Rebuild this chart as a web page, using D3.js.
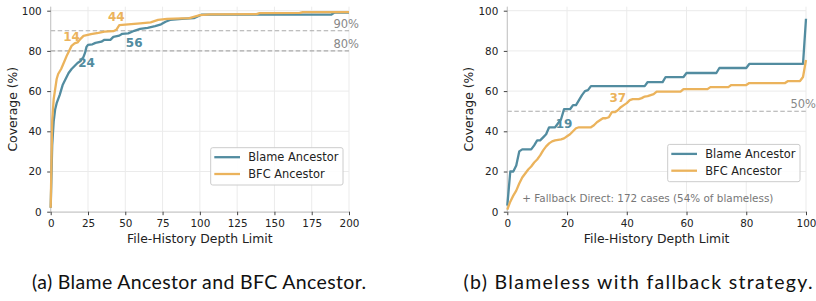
<!DOCTYPE html>
<html>
<head>
<meta charset="utf-8">
<script src="https://cdn.jsdelivr.net/npm/d3@7"></script>
<style>
body { margin: 0; background: #fff; }
svg { display: block; }
</style>
</head>
<body>
<svg width="816" height="301"></svg>
<script>
// (a) Blame Ancestor vs BFC Ancestor, depth 0..200
var blameDepthA = [0,1,2,3,4,5,6,8,10,12,14,16,18,20,22,23,24,25,28,30,34,36,40,42,46,48,52,56,60,65,70,74,77,80,88,96,101,188,190,200];
var blameCovA   = [2,33,45,51,54,56,58,63,66,69,71,72.5,74,75,77,79,82,83,83.3,84,84.6,85.5,85.5,87,87.6,88.5,88.7,90,91,91.5,92.3,93.2,94.5,95.4,95.9,96.3,98,98,99,99];
var bfcDepthA = [0,1,2,3,4,5,7,9,11,12,14,16,18,20,22,27,32,36,42,44,46,52,60,67,72,78,88,93,100,107,138,140,167,169,200];
var bfcCovA   = [2,45,56,61,66,68.5,71,74.5,78,79.5,82.5,83.7,84.2,86,87.5,88.4,89,89.6,89.8,90.5,92.8,93.2,93.7,94.2,95.4,95.9,96.2,96.3,97.8,98.2,98.3,98.8,98.9,99.3,99.3];

// (b) Blameless with fallback, depth 0..100
var blameDepthB = [0,1,2,3,4,5,8,9,10,11,12,13,14,16,17,18,19,21,22,23,24,25,26,27,28,46,47,52,53,59,60,70,71,80,81,99,100];
var blameCovB   = [3,20,20,23,30,31,31,33,35.5,35.5,37,38.5,42,42,44,46,51,51,53,53,55.5,58,60,60.5,62.5,62.5,64.5,64.5,67,67,69,69,71.5,71.5,73.5,73.5,96];
var bfcDepthB = [0,1,2,3,4,5,6,7,8,9,10,11,12,13,14,15,16,18,19,20,21,22,23,24,28,29,30,31,32,33,34,35,36,37,38,39,40,41,42,44,45,46,47,48,49,50,58,59,67,68,74,75,80,81,93,94,98,99,100];
var bfcCovB   = [1,5,8,10.5,14,17,19,21,22.5,24.5,26,28,30.5,32.5,34,35,35.5,36,36.5,37.5,38.5,40,41.5,42,42,43,44.5,45.5,46.5,46.5,47,49.5,49.5,50.5,52,53,54,55.5,56,56,56.5,57.3,57.5,58,58.5,59.7,59.7,61,61,62,62,63,63,64,64,65,65,67,75.5];

// thresholds and depth annotations
var refLinesA = [90, 80];
var refLinesB = [50];
var annoDepthA = [14, 24, 44, 56];
var annoThrA = [80, 80, 90, 90];
var annoSeriesA = ["bfc", "blame", "bfc", "blame"];
var annoDepthB = [19, 37];
var annoThrB = [50, 50];
var annoSeriesB = ["blame", "bfc"];

var xTicksA = [0, 25, 50, 75, 100, 125, 150, 175, 200];
var xTicksB = [0, 20, 40, 60, 80, 100];
var yTicks = [0, 20, 40, 60, 80, 100];
var seriesNames = ["Blame Ancestor", "BFC Ancestor"];
var captions = ["(a) Blame Ancestor and BFC Ancestor.", "(b) Blameless with fallback strategy."];
var fallbackNote = "+ Fallback Direct: 172 cases (54% of blameless)";

var colors = { blame: "#528ca0", bfc: "#ebb35c" };
var font = "'DejaVu Sans', sans-serif";

var svg = d3.select("svg");

function zip(a, b) {
    return a.map(function(d, i) { return [d, b[i]]; });
}

function panel(cfg) {
    var g = svg.append("g");
    var x = d3.scaleLinear().domain([0, cfg.xMax]).range([cfg.x0, cfg.x1]);
    var y = d3.scaleLinear().domain([0, 102]).range([211.7, 6.68]);

    // grid
    g.selectAll(".gx").data(cfg.xTicks).enter().append("line")
        .attr("x1", x).attr("x2", x)
        .attr("y1", y(0)).attr("y2", y(102))
        .attr("stroke", "#ebebeb").attr("stroke-width", 1);
    g.selectAll(".gy").data(yTicks).enter().append("line")
        .attr("x1", cfg.x0).attr("x2", cfg.x1)
        .attr("y1", y).attr("y2", y)
        .attr("stroke", "#ebebeb").attr("stroke-width", 1);

    // dashed reference lines
    cfg.refs.forEach(function(r) {
        g.append("line")
            .attr("x1", cfg.x0).attr("x2", cfg.x1)
            .attr("y1", y(r)).attr("y2", y(r))
            .attr("stroke", "#aaaaaa").attr("stroke-width", 1.1)
            .attr("stroke-dasharray", "4.5,2.5");
        g.append("text")
            .attr("x", cfg.x1 + 10).attr("y", y(r) - 3)
            .attr("text-anchor", "end")
            .attr("font-family", font).attr("font-size", "11.5px")
            .attr("fill", "#888")
            .text(r + "%");
    });

    // axes
    var xa = g.append("g").attr("transform", "translate(0," + y(0) + ")")
        .call(d3.axisBottom(x).tickValues(cfg.xTicks).tickSize(3.5).tickSizeOuter(0).tickPadding(4.5));
    var ya = g.append("g").attr("transform", "translate(" + cfg.x0 + ",0)")
        .call(d3.axisLeft(y).tickValues(yTicks).tickSize(3.5).tickSizeOuter(0).tickPadding(5.5));
    ya.select(".domain").attr("d", "M0," + y(0) + "V" + y(102));
    [xa, ya].forEach(function(a) {
        a.select(".domain").attr("stroke", "#c4c4c4");
        a.selectAll(".tick line").attr("stroke", "#444");
        a.selectAll(".tick text").attr("font-family", font).attr("font-size", "10.4px").attr("fill", "#222");
    });

    g.append("text")
        .attr("x", (cfg.x0 + cfg.x1) / 2).attr("y", 242.5)
        .attr("text-anchor", "middle")
        .attr("font-family", font).attr("font-size", "12.4px").attr("fill", "#222")
        .text("File-History Depth Limit");
    g.append("text")
        .attr("transform", "translate(" + (cfg.x0 - 34) + "," + ((y(0) + y(102)) / 2) + ") rotate(-90)")
        .attr("text-anchor", "middle")
        .attr("font-family", font).attr("font-size", "12.4px").attr("fill", "#222")
        .text("Coverage (%)");

    // curves
    var line = d3.line().x(function(d) { return x(d[0]); }).y(function(d) { return y(d[1]); });
    cfg.series.forEach(function(s) {
        g.append("path")
            .datum(s.pts)
            .attr("fill", "none")
            .attr("stroke", colors[s.key])
            .attr("stroke-width", 2.3)
            .attr("stroke-linejoin", "round")
            .attr("d", line);
    });

    // depth labels
    cfg.anno.depth.forEach(function(d, i) {
        var key = cfg.anno.series[i];
        var above = key === "bfc";
        g.append("text")
            .attr("x", x(d))
            .attr("y", above ? y(cfg.anno.thr[i]) - 9.6 : y(cfg.anno.thr[i]) + 16.3)
            .attr("text-anchor", "middle")
            .attr("font-family", font).attr("font-size", "12px").attr("font-weight", "bold")
            .attr("fill", colors[key])
            .text(d);
    });

    // legend
    var lx = cfg.x1 - 6 - 132.3, ly = y(0) - cfg.legBottom - 37.3;
    var leg = g.append("g").attr("transform", "translate(" + lx + "," + ly + ")");
    leg.append("rect")
        .attr("width", 132.3).attr("height", 37.3).attr("rx", 2)
        .attr("fill", "#fff").attr("fill-opacity", 0.9)
        .attr("stroke", "#cccccc").attr("stroke-width", 1);
    ["blame", "bfc"].forEach(function(k, i) {
        var yy = 9.5 + i * 16.8;
        leg.append("line")
            .attr("x1", 3.6).attr("x2", 29.3).attr("y1", yy).attr("y2", yy)
            .attr("stroke", colors[k]).attr("stroke-width", 2.3);
        leg.append("text")
            .attr("x", 37.6).attr("y", yy).attr("dy", "0.36em")
            .attr("font-family", font).attr("font-size", "11.4px").attr("fill", "#222")
            .text(seriesNames[i]);
    });

    if (cfg.note) {
        g.append("text")
            .attr("x", cfg.x0 + 0.05 * (cfg.x1 - cfg.x0)).attr("y", y(0) - 9.5)
            .attr("font-family", font).attr("font-size", "10.4px").attr("fill", "#777")
            .text(cfg.note);
    }

    svg.append("text")
        .attr("x", cfg.capX).attr("y", 288.5)
        .attr("text-anchor", "middle")
        .attr("font-family", "'Linux Biolinum', Lato, sans-serif").attr("font-size", "19.5px")
        .attr("textLength", cfg.capW).attr("lengthAdjust", "spacing")
        .attr("fill", "#111")
        .text(cfg.caption);
}

panel({
    x0: 50.7, x1: 349, xMax: 200, xTicks: xTicksA, refs: refLinesA,
    series: [{ key: "blame", pts: zip(blameDepthA, blameCovA) }, { key: "bfc", pts: zip(bfcDepthA, bfcCovA) }],
    anno: { depth: annoDepthA, thr: annoThrA, series: annoSeriesA },
    legBottom: 26.7, caption: captions[0], capX: 199, capW: 334
});
panel({
    x0: 507.3, x1: 806, xMax: 100, xTicks: xTicksB, refs: refLinesB,
    series: [{ key: "blame", pts: zip(blameDepthB, blameCovB) }, { key: "bfc", pts: zip(bfcDepthB, bfcCovB) }],
    anno: { depth: annoDepthB, thr: annoThrB, series: annoSeriesB },
    legBottom: 30, caption: captions[1], capX: 638, capW: 349, note: fallbackNote
});
</script>
</body>
</html>
